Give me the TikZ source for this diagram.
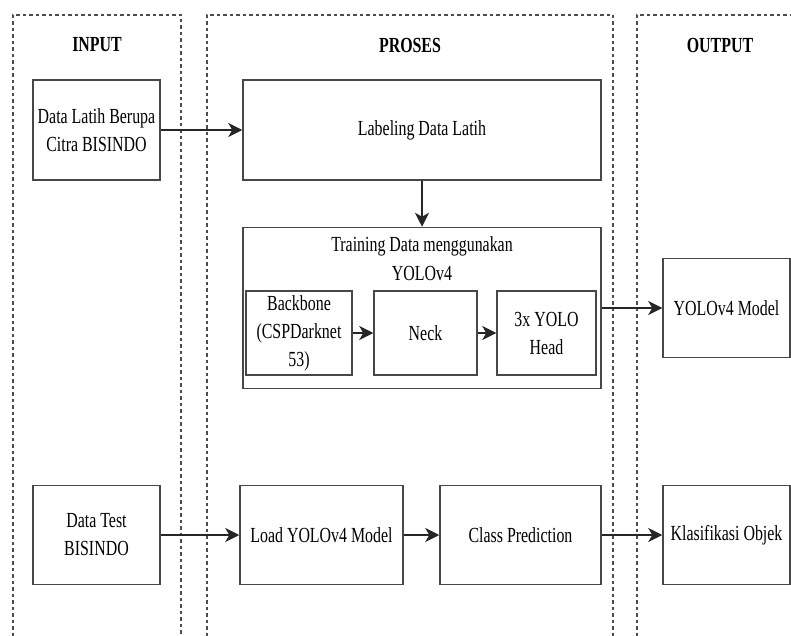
\documentclass[tikz,border=0pt]{standalone}
\usepackage{fontspec}
\setmainfont{Liberation Serif}[FakeStretch=0.74]
\usetikzlibrary{arrows.meta}
\begin{document}
\begin{tikzpicture}[x=1pt,y=-1pt,
  box/.style={draw=black!72, line width=1.5pt, fill=white, inner sep=0pt, align=center, font=\fontsize{21.5}{28}\selectfont},
  col/.style={draw=black!70, line width=1.3pt, dash pattern=on 3.5pt off 3pt},
  arr/.style={draw=black!85, line width=1.6pt, -{Stealth[length=14pt,width=14pt,inset=4pt]}},
  ttl/.style={font=\fontsize{21.5}{27}\selectfont\bfseries}]
\useasboundingbox (0,0) rectangle (791,636);
% columns
\draw[col] (13,636) -- (13,15) -- (181,15) -- (181,636);
\draw[col] (207,636) -- (207,15) -- (613,15) -- (613,636);
\draw[col] (637,636) -- (637,15) -- (791,15);
\node[ttl] (tin) at (97,45) {INPUT};
\node[ttl] (tpr) at (410,45) {PROSES};
\node[ttl] (tout) at (720,45) {OUTPUT};
% boxes
\node[box, minimum width=127pt, minimum height=100pt] (dl) at (96.5,130) {Data Latih Berupa\\Citra BISINDO};
\node[box, minimum width=358pt, minimum height=100pt] (lab) at (422,130) {Labeling Data Latih};
\node[box, minimum width=358pt, minimum height=161pt] (train) at (422,308) {};
\node[align=center, inner sep=0pt, font=\fontsize{21.5}{29}\selectfont, anchor=north] (trl) at (422,236) {Training Data menggunakan\\YOLOv4};
\node[box, minimum width=106pt, minimum height=84pt] (bb) at (299,333) {Backbone\\(CSPDarknet\\53)};
\node[box, minimum width=103pt, minimum height=84pt] (neck) at (425.5,333) {Neck};
\node[box, minimum width=99pt, minimum height=84pt] (head) at (546.5,333) {3x YOLO\\Head};
\node[box, minimum width=127pt, minimum height=99pt] (model) at (726.5,308) {YOLOv4 Model};
\node[box, minimum width=127pt, minimum height=99pt] (dt) at (96.5,535) {Data Test\\BISINDO};
\node[box, minimum width=163pt, minimum height=99pt] (load) at (321.5,535) {Load YOLOv4 Model};
\node[box, minimum width=161pt, minimum height=99pt] (cls) at (520.5,535) {Class Prediction};
\node[box, minimum width=127pt, minimum height=99pt] (kls) at (726.5,535) {Klasifikasi Objek};
% arrows
\draw[arr] (dl.east) -- (lab.west);
\draw[arr] (lab.south) -- (train.north);
\draw[arr] (bb.east) -- (neck.west);
\draw[arr] (neck.east) -- (head.west);
\draw[arr] (train.east) -- (model.west);
\draw[arr] (dt.east) -- (load.west);
\draw[arr] (load.east) -- (cls.west);
\draw[arr] (cls.east) -- (kls.west);
\end{tikzpicture}
\end{document}
